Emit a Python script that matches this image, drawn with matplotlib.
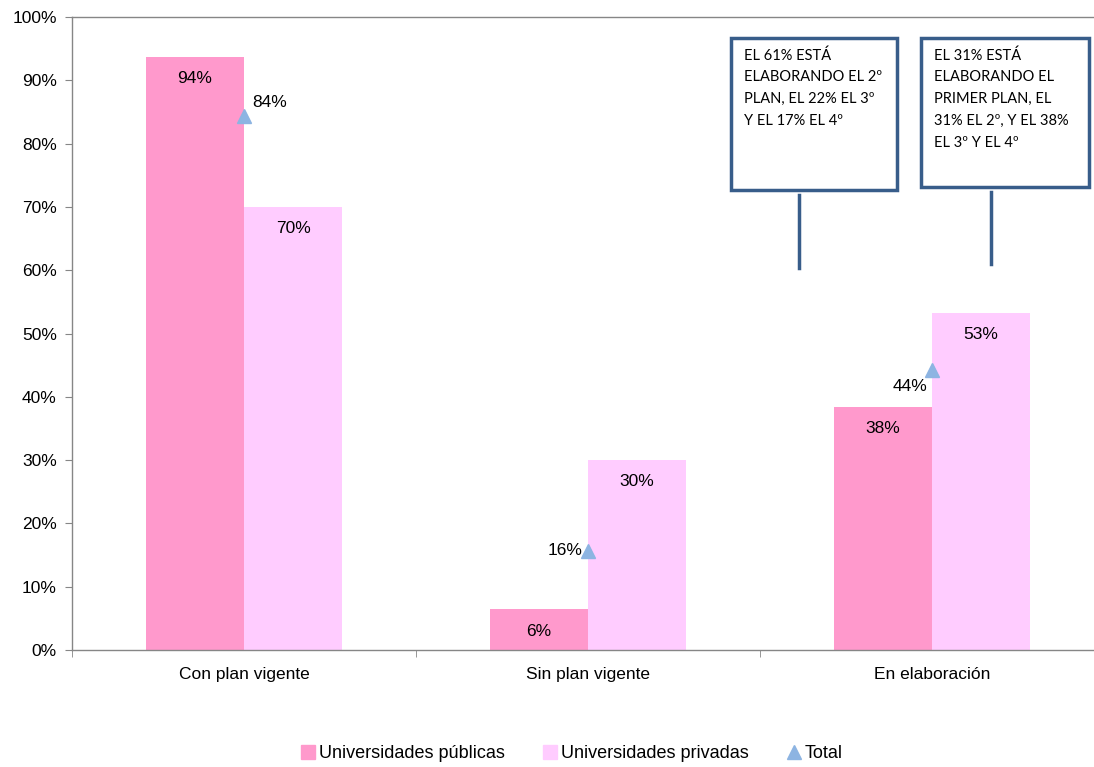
import matplotlib
matplotlib.use("Agg")
import matplotlib.pyplot as plt
from matplotlib.patches import Rectangle
from matplotlib.lines import Line2D
import numpy as np

categories = ["Con plan vigente", "Sin plan vigente", "En elaboración"]
publicas = [93.7, 6.4, 38.4]
privadas = [70.0, 30.0, 53.3]
total = [84.4, 15.6, 44.2]
yticks = [0, 10, 20, 30, 40, 50, 60, 70, 80, 90, 100]
callout_texts = [
    "EL 61% ESTÁ\nELABORANDO EL 2º\nPLAN, EL 22% EL 3º\nY EL 17% EL 4º",
    "EL 31% ESTÁ\nELABORANDO EL\nPRIMER PLAN, EL\n31% EL 2º, Y EL 38%\nEL 3º Y EL 4º",
]

C_PUB = "#FF99CC"
C_PRI = "#FFCCFF"
C_TOT = "#8DB4E2"
C_BOX = "#385D8A"
GRAY = "#868686"

plt.rcParams['font.family'] = ['Liberation Sans', 'DejaVu Sans']

W, H = 1094, 767
fig = plt.figure(figsize=(W / 100, H / 100), dpi=100)

def fx(px):
    return px / W

def fy(py):
    return 1 - py / H

ax = fig.add_axes([fx(72), fy(650), (1104 - 72) / W, (650 - 17) / H])

x = np.arange(len(categories))
bw = 0.285
ax.bar(x - bw / 2, publicas, bw, color=C_PUB, zorder=2)
ax.bar(x + bw / 2, privadas, bw, color=C_PRI, zorder=2)
ax.plot(x, total, linestyle="none", marker="^", markersize=10, color=C_TOT, zorder=3)

FS = 12.5
for i in range(len(categories)):
    ax.annotate(f"{publicas[i]:.0f}%", (x[i] - bw / 2, publicas[i]), xytext=(0, -21),
                textcoords="offset points", ha="center", va="bottom", fontsize=FS, color="black")
    ax.annotate(f"{privadas[i]:.0f}%", (x[i] + bw / 2, privadas[i]), xytext=(0, -21),
                textcoords="offset points", ha="center", va="bottom", fontsize=FS, color="black")

tot_offsets = [((6, 4), "left", "bottom"), ((-4, -5), "right", "bottom"), ((-3, -17), "right", "bottom")]
for i in range(len(categories)):
    off, ha, va = tot_offsets[i]
    ax.annotate(f"{total[i]:.0f}%", (x[i], total[i]), xytext=off, textcoords="offset points",
                ha=ha, va=va, fontsize=FS, color="black")

ax.set_xlim(-0.5, len(categories) - 0.5)
ax.set_ylim(0, 100)
ax.set_yticks(yticks)
ax.set_yticklabels([f"{v}%" for v in yticks], fontsize=FS)
ax.set_xticks(x)
ax.set_xticklabels(categories, fontsize=FS)
ax.tick_params(axis="x", length=0, pad=12)
ax.set_xticks(np.arange(-0.5, len(categories) + 0.5, 1), minor=True)
ax.tick_params(axis="x", which="minor", length=5, color=GRAY, direction="out")
ax.tick_params(axis="y", length=5, color=GRAY, direction="out", pad=6)
for s in ["left", "bottom", "top", "right"]:
    ax.spines[s].set_color(GRAY)
    ax.spines[s].set_linewidth(1)

# callouts
boxes = [(731, 38, 897, 190, 799, 195, 268), (921, 38, 1089, 187, 991, 192, 264)]
for (x0, y0, x1, y1, lx, ly0, ly1), txt in zip(boxes, callout_texts):
    fig.patches.append(Rectangle((fx(x0), fy(y1)), fx(x1 - x0), (y1 - y0) / H,
                                 transform=fig.transFigure, facecolor="white",
                                 edgecolor=C_BOX, linewidth=2.5, zorder=5))
    fig.lines.append(Line2D([fx(lx), fx(lx)], [fy(ly0), fy(ly1)], transform=fig.transFigure,
                            color=C_BOX, linewidth=2.5, zorder=5))
    fig.text(fx(x0 + 13), fy(y0 + 10), txt, ha="left", va="top", fontsize=10.5,
             family=["Lato", "DejaVu Sans"], linespacing=1.72, zorder=6)

handles = [
    Line2D([], [], linestyle="none", marker="s", markersize=10, color=C_PUB),
    Line2D([], [], linestyle="none", marker="s", markersize=10, color=C_PRI),
    Line2D([], [], linestyle="none", marker="^", markersize=10, color=C_TOT),
]
fig.legend(handles, ["Universidades públicas", "Universidades privadas", "Total"],
           loc="center", bbox_to_anchor=(fx(571), fy(754)), ncol=3, frameon=False,
           fontsize=13, handletextpad=0.1, columnspacing=2.0, handlelength=1.0)

fig.savefig("out.png", dpi=100)
